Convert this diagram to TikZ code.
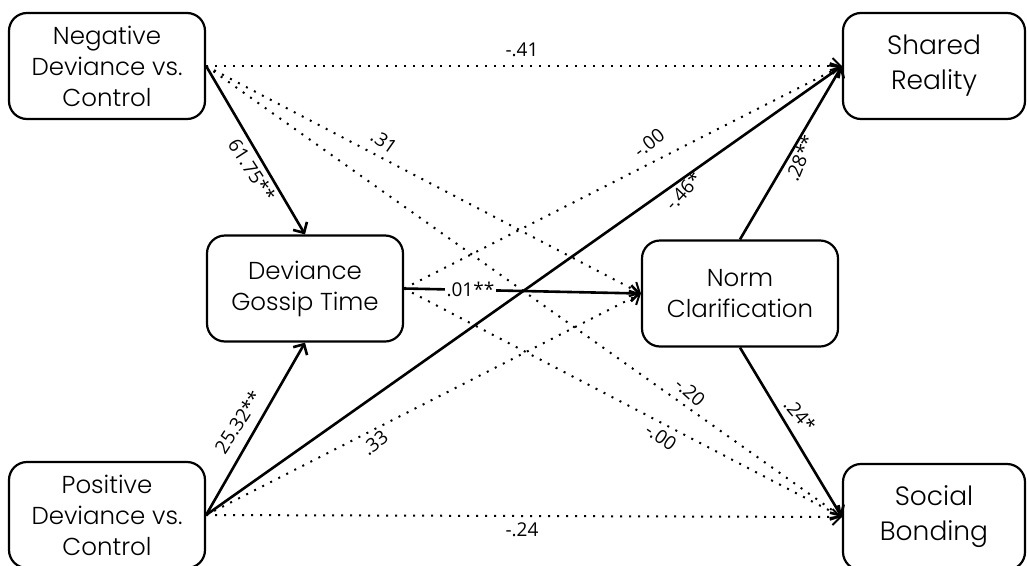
\documentclass[tikz,border=0pt]{standalone}
\usepackage{fontspec}
\setmainfont{Poppins}[UprightFont=* Light, Ligatures=NoCommon]
\newfontfamily\coeffont{Open Sans}
\usetikzlibrary{arrows.meta}
\begin{document}
\begin{tikzpicture}[x=1pt,y=-1pt,
  box/.style={draw, line width=2.2pt, rounded corners=18pt, minimum width=196pt,
    minimum height=106pt, align=center, inner sep=0pt,
    font=\fontsize{24.5}{31}\selectfont},
  bigbox/.style={box, minimum width=182pt, font=\fontsize{26.5}{35}\selectfont},
  sig/.style={line width=2.6pt, -{Straight Barb[length=8pt,width=16pt]}},
  nonsig/.style={line width=2pt, dash pattern=on 2pt off 7pt,
    -{Straight Barb[length=8pt,width=16pt]}},
  coef/.style={font=\coeffont\fontsize{19}{21}\selectfont, inner sep=1pt}]
\useasboundingbox (0,0) rectangle (1027,565);

% variables
\node[box] (neg) at (107,66) {Negative\\Deviance vs.\\Control};
\node[box] (pos) at (107,515) {Positive\\Deviance vs.\\Control};
\node[box] (gos) at (305,288.5) {Deviance\\Gossip Time};
\node[box] (norm) at (740,293.5) {Norm\\Clarification};
\node[bigbox] (sr) at (934,66) {Shared\\Reality};
\node[bigbox] (sb) at (934,517) {Social\\Bonding};

% non-significant paths
\draw[nonsig] (neg.east) -- (sr.west);
\draw[nonsig] (neg.east) -- (norm.west);
\draw[nonsig] (neg.east) -- (sb.west);
\draw[nonsig] (gos.east) -- (sr.west);
\draw[nonsig] (gos.east) -- (sb.west);
\draw[nonsig] (pos.east) -- (norm.west);
\draw[nonsig] (pos.east) -- (sb.west);

% significant paths
\draw[sig] (neg.east) -- (gos.north);
\draw[sig] (pos.east) -- (gos.south);
\draw[sig] (pos.east) -- (sr.west);
\draw[sig] (norm.north) -- (sr.west);
\draw[sig] (norm.south) -- (sb.west);
\draw[sig] (gos.east) -- node[coef, fill=white, inner sep=2pt, pos=0.28] (c-gn) {.01**} (norm.west);

% path coefficients
\node[coef] (c-nsr) at (522,50) {-.41};
\node[coef, rotate=-35] (c-nn) at (384,142) {.31};
\node[coef, rotate=-42] (c-nsb) at (690,392) {-.20};
\node[coef, rotate=38] (c-gsr) at (649,143) {-.00};
\node[coef, rotate=-35] (c-gsb) at (661,437) {-.00};
\node[coef, rotate=38] (c-pn) at (375,443) {.33};
\node[coef] (c-psb) at (522,530) {-.24};
\node[coef, rotate=-57] (c-ng) at (252,170) {61.75**};
\node[coef, rotate=57] (c-pg) at (238,422) {25.32**};
\node[coef, rotate=47] (c-psr) at (683,191) {-.46*};
\node[coef, rotate=68] (c-nosr) at (800,158) {.28**};
\node[coef, rotate=-50] (c-nosb) at (800,415) {.24*};
\end{tikzpicture}
\end{document}
